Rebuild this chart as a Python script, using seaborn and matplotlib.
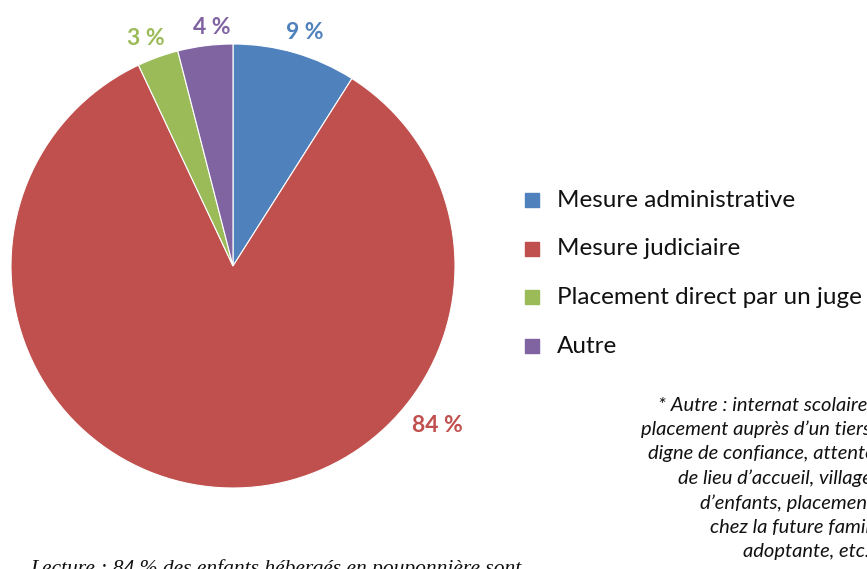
import numpy as np
import matplotlib.pyplot as plt
import seaborn as sns

categories = ["Mesure administrative", "Mesure judiciaire",
              "Placement direct par un juge", "Autre"]
values = [9, 84, 3, 4]
pct_labels = ["9 %", "84 %", "3 %", "4 %"]
colors = ["#4F81BD", "#C0504D", "#9BBB59", "#8064A2"]

note_lines = ["* Autre : internat scolaire,",
              "placement auprès d\u2019un tiers",
              "digne de confiance, attente",
              "de lieu d\u2019accueil, village",
              "d\u2019enfants, placement",
              "chez la future famille",
              "adoptante, etc."]
lecture = "Lecture : 84 % des enfants hébergés en pouponnière sont"

sns.set_style("white")
plt.rcParams['font.family'] = ['Lato', 'DejaVu Sans']

W, H = 867, 569
fig = plt.figure(figsize=(W / 100, H / 100), dpi=100)
ax = fig.add_axes([0, 0, 1, 1])

cx, cy, R = 233, H - 266, 222
wedges, _ = ax.pie(values, colors=colors, startangle=90, counterclock=False,
                   radius=R, center=(cx, cy), frame=True,
                   wedgeprops=dict(edgecolor="white", linewidth=0.8))
ax.set_xlim(0, W)
ax.set_ylim(0, H)
ax.set_aspect("equal")
ax.axis("off")

# percent labels: radius factor and angle (Excel "best fit" placement)
label_r = [1.1, 1.17, 1.1, 1.08]
label_ang = [73, -38, 111, 95]
for w, lab, col, rf, a in zip(wedges, pct_labels, colors, label_r, label_ang):
    x = cx + rf * R * np.cos(np.radians(a))
    y = cy + rf * R * np.sin(np.radians(a))
    ax.text(x, y, lab, color=col, fontsize=16.5, fontweight="bold",
            ha="center", va="center")

# legend
for i, (cat, col) in enumerate(zip(categories, colors)):
    ly = H - (200 + i * 48.7)
    ax.scatter([532], [ly], marker="s", s=110, color=col, clip_on=False)
    ax.text(557, ly, cat, fontsize=17.5, va="center", ha="left", color="#111111")

# footnote, cut by the right edge like the original
note_x = [658, 641, 648, 678, 700, 710, 743]
for i, (line, nx) in enumerate(zip(note_lines, note_x)):
    ax.text(nx, H - (405 + i * 24.5), line, fontsize=14.5, style="italic",
            ha="left", va="center", color="#111111")

ax.text(30, H - 569, lecture, fontsize=15.5, style="italic", family="Liberation Serif",
        ha="left", va="center", color="#111111")

fig.savefig("out.png", dpi=100)
